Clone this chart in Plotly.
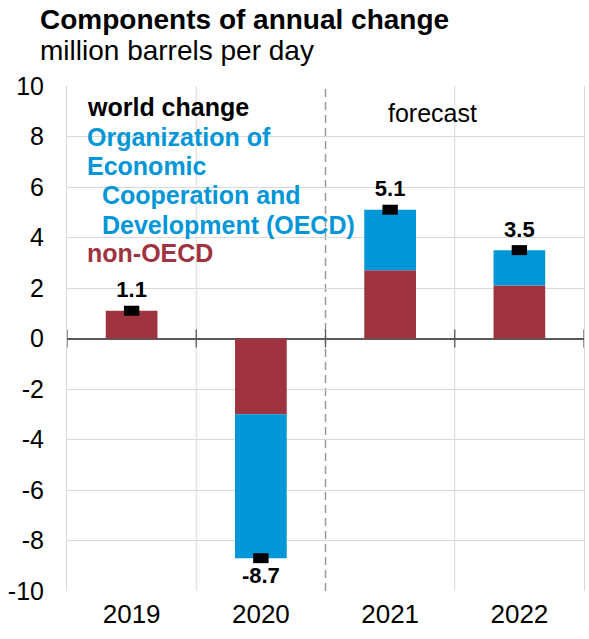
import plotly.graph_objects as go

years = ["2019", "2020", "2021", "2022"]
oecd = [0.0, -5.7, 2.4, 1.4]
non_oecd = [1.1, -3.0, 2.7, 2.1]
world = [1.1, -8.7, 5.1, 3.5]
world_labels = ["1.1", "-8.7", "5.1", "3.5"]
y_ticks = [-10, -8, -6, -4, -2, 0, 2, 4, 6, 8, 10]
y_ticktext = ["-10", "-8", "-6", "-4", "-2", "0", "2", "4", "6", "8", "10"]

BLUE = "#0096d7"
RED = "#9f333f"
GRID = "#d9d9d9"
FONT = "Liberation Sans, Arial, sans-serif"

W, H = 589, 639
ML, MR, MT, MB = 66.5, 5, 86, 48
PH = H - MT - MB

xpos = list(range(len(years)))
bounds = [i - 0.5 for i in range(len(years) + 1)]
forecast_start = 1.5

fig = go.Figure()
fig.add_trace(go.Bar(x=xpos, y=non_oecd, marker_color=RED, width=0.4, name="non-OECD",
                     marker_line_width=0))
fig.add_trace(go.Bar(x=xpos, y=oecd, marker_color=BLUE, width=0.4, name="OECD",
                     marker_line_width=0))
fig.add_trace(go.Scatter(
    x=xpos, y=world, mode="markers+text", text=world_labels,
    textposition=["top center" if v >= 0 else "bottom center" for v in world],
    textfont=dict(family=FONT, size=22, color="black", weight="bold"),
    marker=dict(symbol="line-ew", size=11, color="black",
                line=dict(width=10, color="black")),
    cliponaxis=False, name="world change"))

shapes = []
for b in bounds[1:-1]:
    dashed = (b == forecast_start)
    shapes.append(dict(type="line", xref="x", yref="paper", x0=b, x1=b, y0=0, y1=1,
                       line=dict(color="#9a9a9a" if dashed else GRID,
                                 width=1.5 if dashed else 1,
                                 dash="8px,5px" if dashed else "solid"), layer="below"))
for b in bounds:
    shapes.append(dict(type="line", xref="x", yref="y", x0=b, x1=b, y0=-0.36, y1=0.36,
                       line=dict(color="#595959", width=1.3)))

ann = []
def txt(x, y, s, color, bold=True, size=25, xanchor="left"):
    ann.append(dict(x=x, y=y, xref="x", yref="y", text=s, showarrow=False,
                    xanchor=xanchor, yanchor="middle",
                    font=dict(family=FONT, size=size, color=color,
                              weight="bold" if bold else "normal")))

txt(-0.36, 9.18, "world change", "black")
txt(-0.36, 7.99, "Organization of", BLUE)
txt(-0.36, 6.83, "Economic", BLUE)
txt(-0.244, 5.67, "Cooperation and", BLUE)
txt(-0.244, 4.50, "Development (OECD)", BLUE)
txt(-0.36, 3.37, "non-OECD", RED)
txt(2.33, 8.93, "forecast", "black", bold=False, size=25, xanchor="center")

def px2paper(px, py):
    return (px - ML) / (W - ML - MR), 1 - (py - MT) / PH

tx, ty = px2paper(37, 20)
ann.append(dict(x=tx, y=ty, xref="paper", yref="paper", text="Components of annual change",
                showarrow=False, xanchor="left", yanchor="middle",
                font=dict(family=FONT, size=28, color="black", weight="bold")))
sx, sy = px2paper(37, 51)
ann.append(dict(x=sx, y=sy, xref="paper", yref="paper", text="million barrels per day",
                showarrow=False, xanchor="left", yanchor="middle",
                font=dict(family=FONT, size=28, color="black")))

fig.update_layout(
    width=W, height=H,
    margin=dict(l=ML, r=MR, t=MT, b=MB, autoexpand=False),
    plot_bgcolor="white", paper_bgcolor="white",
    barmode="relative", showlegend=False,
    shapes=shapes, annotations=ann,
    xaxis=dict(range=[-0.5, 3.5], tickvals=xpos, ticktext=years, showgrid=False,
               zeroline=False, showline=False, ticks="", automargin=False,
               ticklabelstandoff=5,
               tickfont=dict(family=FONT, size=26, color="black")),
    yaxis=dict(range=[-10, 10], tickvals=y_ticks, ticktext=y_ticktext,
               showgrid=True, gridcolor=GRID,
               gridwidth=1, zeroline=True, zerolinecolor="#595959", zerolinewidth=1.5,
               showline=True, mirror=True, linecolor=GRID, linewidth=1, ticks="",
               ticklabelstandoff=17, automargin=False,
               tickfont=dict(family=FONT, size=25, color="black")),
)

fig.write_html("out.html", config={"displayModeBar": False},
               post_script="document.body.style.margin='0';document.body.style.padding='0';")
